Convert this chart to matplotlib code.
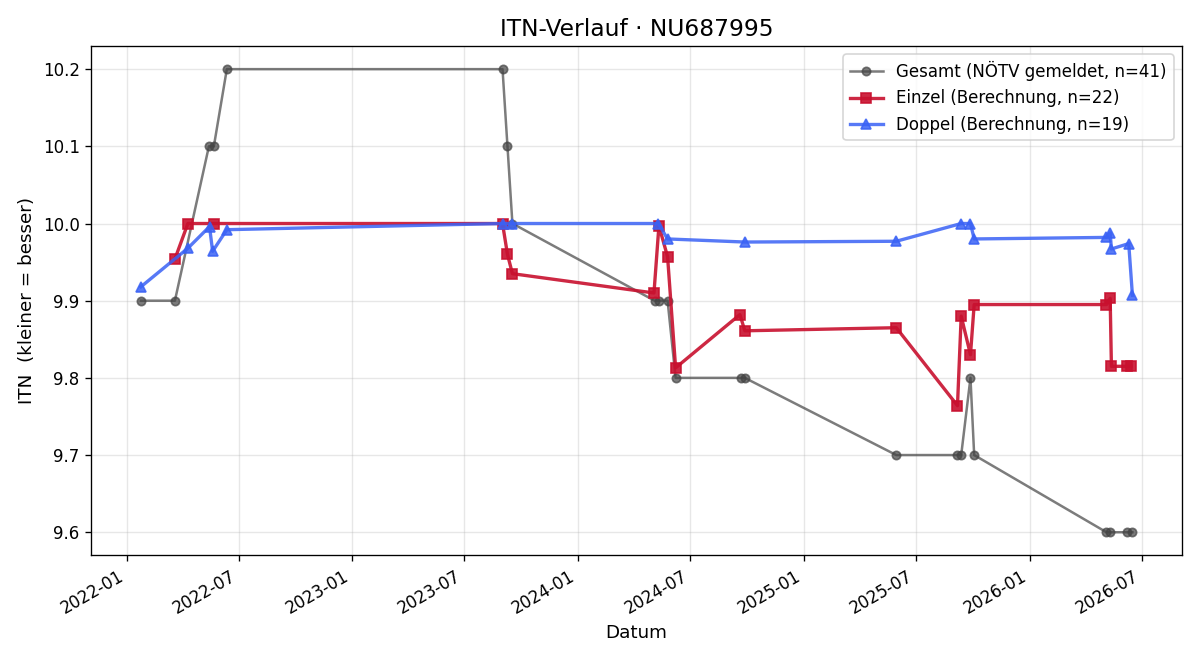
import matplotlib
matplotlib.use("Agg")
import matplotlib.pyplot as plt
import matplotlib.dates as mdates
import pandas as pd

# Gesamt (NÖTV gemeldet)
gesamt_dates = ["2022-01-24", "2022-03-20", "2022-05-14", "2022-05-22", "2022-06-12",
                "2023-09-01", "2023-09-09", "2023-09-17",
                "2024-05-04", "2024-05-11", "2024-05-25", "2024-06-07",
                "2024-09-20", "2024-09-27", "2025-05-30",
                "2025-09-06", "2025-09-12", "2025-09-27", "2025-10-03",
                "2026-05-05", "2026-05-10", "2026-06-08", "2026-06-16"]
gesamt_itn = [9.9, 9.9, 10.1, 10.1, 10.2,
              10.2, 10.1, 10.0,
              9.9, 9.9, 9.9, 9.8,
              9.8, 9.8, 9.7,
              9.7, 9.7, 9.8, 9.7,
              9.6, 9.6, 9.6, 9.6]

# Einzel (Berechnung)
einzel_dates = ["2022-03-20", "2022-04-10", "2022-05-22",
                "2023-09-01", "2023-09-09", "2023-09-17",
                "2024-05-03", "2024-05-11", "2024-05-25", "2024-06-07",
                "2024-09-19", "2024-09-27", "2025-05-30",
                "2025-09-06", "2025-09-12", "2025-09-27", "2025-10-03",
                "2026-05-05", "2026-05-11", "2026-05-13", "2026-06-08", "2026-06-14"]
einzel_itn = [9.954, 10.0, 10.0,
              10.0, 9.96, 9.935,
              9.91, 9.997, 9.957, 9.813,
              9.882, 9.861, 9.865,
              9.764, 9.88, 9.83, 9.895,
              9.895, 9.903, 9.815, 9.815, 9.815]

# Doppel (Berechnung)
doppel_dates = ["2022-01-24", "2022-04-10", "2022-05-15", "2022-05-20", "2022-06-12",
                "2023-09-01", "2023-09-17",
                "2024-05-10", "2024-05-25", "2024-09-27", "2025-05-30",
                "2025-09-12", "2025-09-27", "2025-10-03",
                "2026-05-05", "2026-05-11", "2026-05-13", "2026-06-10", "2026-06-16"]
doppel_itn = [9.918, 9.968, 9.996, 9.964, 9.992,
              10.0, 10.0,
              10.0, 9.98, 9.976, 9.977,
              10.0, 10.0, 9.98,
              9.982, 9.988, 9.967, 9.974, 9.907]

fig, ax = plt.subplots(figsize=(10, 5.5), dpi=120)

ax.plot(pd.to_datetime(gesamt_dates), gesamt_itn, color="#444444", alpha=0.7,
        marker="o", markersize=5, linewidth=1.5, label="Gesamt (NÖTV gemeldet, n=41)")
ax.plot(pd.to_datetime(einzel_dates), einzel_itn, color="#C8102E", alpha=0.9,
        marker="s", markersize=6, linewidth=2, label="Einzel (Berechnung, n=22)")
ax.plot(pd.to_datetime(doppel_dates), doppel_itn, color="#3A62F5", alpha=0.85,
        marker="^", markersize=6, linewidth=2, label="Doppel (Berechnung, n=19)")

ax.set_title("ITN-Verlauf · NU687995", fontsize=14)
ax.set_xlabel("Datum", fontsize=11)
ax.set_ylabel("ITN  (kleiner = besser)", fontsize=11)
ax.grid(True, alpha=0.3)
ax.xaxis.set_major_locator(mdates.MonthLocator(bymonth=[1, 7]))
ax.xaxis.set_major_formatter(mdates.DateFormatter("%Y-%m"))
ax.legend(loc="upper right")
fig.autofmt_xdate()
fig.tight_layout()
fig.savefig("out.png", dpi=120)
